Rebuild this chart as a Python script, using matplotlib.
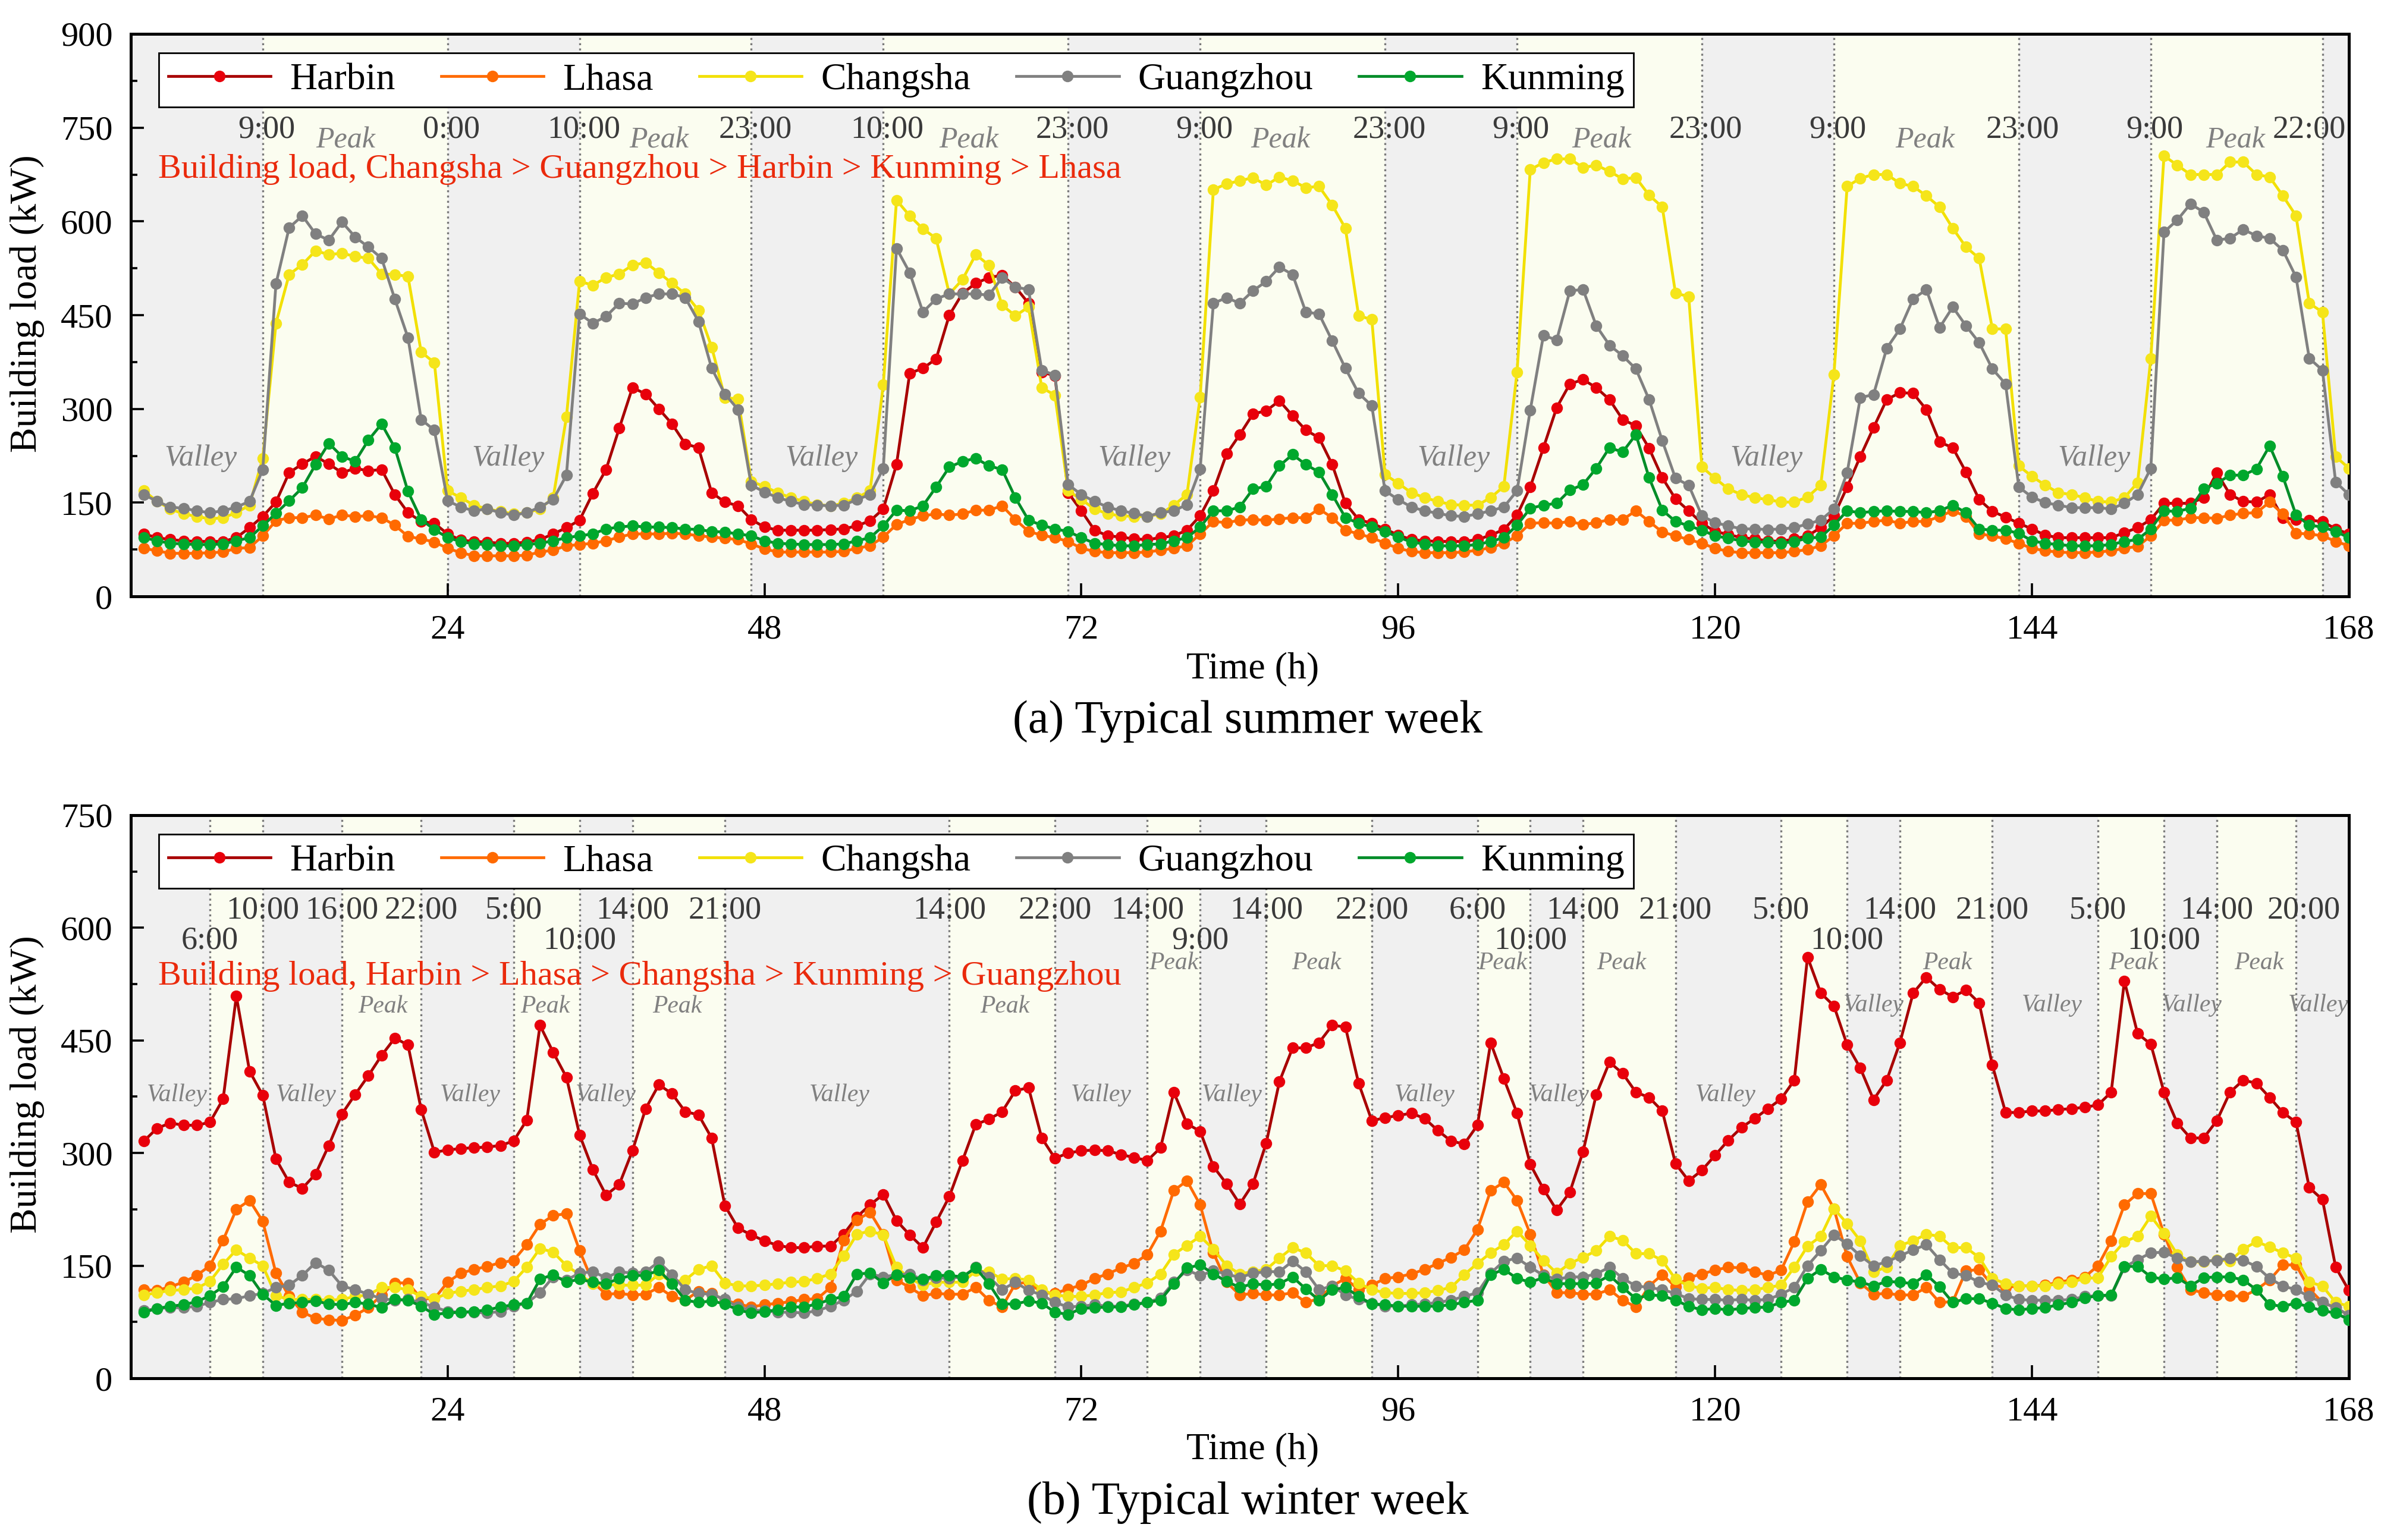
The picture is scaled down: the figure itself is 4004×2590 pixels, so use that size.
import matplotlib.pyplot as plt
from matplotlib.ticker import MultipleLocator

plt.rcParams['font.family'] = ['Liberation Serif', 'DejaVu Serif']

hours = list(range(1, 169))
cities = ['Harbin', 'Lhasa', 'Changsha', 'Guangzhou', 'Kunming']

# ---- typical summer week, hourly building load (kW) ----
summer_harbin = [
    100, 94, 91, 89, 88, 88, 88, 94, 110, 128, 151, 198, 212, 224, 212, 198, 205, 201, 203, 163, 134, 120, 117, 100,
    90, 88, 87, 85, 85, 87, 91, 100, 110, 122, 165, 203, 269, 334, 324, 300, 276, 244, 238, 166, 151, 145, 123, 111,
    106, 106, 106, 106, 107, 108, 113, 121, 140, 211, 357, 365, 380, 450, 485, 501, 510, 514, 495, 469, 359, 353, 166, 137,
    106, 97, 95, 92, 91, 94, 97, 106, 129, 169, 228, 259, 292, 297, 313, 289, 266, 254, 211, 149, 123, 117, 108, 98,
    91, 89, 88, 88, 88, 91, 98, 107, 130, 175, 238, 302, 340, 347, 334, 315, 283, 273, 237, 190, 156, 137, 117, 104,
    99, 94, 92, 89, 88, 92, 97, 110, 129, 175, 224, 270, 315, 326, 325, 299, 247, 238, 199, 155, 136, 127, 117, 108,
    98, 94, 94, 94, 94, 94, 102, 110, 123, 149, 149, 149, 158, 198, 163, 152, 151, 163, 126, 123, 122, 120, 108, 100]
summer_lhasa = [
    77, 73, 69, 69, 69, 70, 71, 77, 78, 97, 121, 126, 126, 130, 124, 130, 128, 129, 126, 114, 96, 92, 87, 77,
    70, 65, 65, 65, 65, 66, 71, 74, 81, 83, 85, 89, 95, 100, 100, 100, 101, 100, 97, 95, 93, 91, 84, 76,
    71, 71, 71, 71, 71, 72, 77, 81, 95, 115, 123, 129, 132, 130, 132, 138, 138, 145, 123, 104, 98, 94, 88, 77,
    72, 70, 70, 70, 71, 74, 77, 81, 100, 120, 118, 122, 123, 122, 124, 126, 126, 140, 126, 106, 100, 94, 85, 77,
    72, 70, 70, 70, 71, 74, 78, 85, 97, 117, 118, 117, 120, 115, 118, 123, 123, 137, 120, 103, 97, 91, 85, 77,
    72, 70, 70, 70, 70, 72, 75, 81, 97, 117, 117, 120, 122, 117, 120, 120, 128, 137, 128, 100, 97, 92, 85, 77,
    73, 71, 70, 70, 71, 73, 77, 80, 97, 122, 122, 126, 126, 125, 130, 133, 134, 151, 132, 101, 100, 97, 88, 81]
summer_changsha = [
    169, 152, 140, 132, 128, 124, 126, 134, 146, 221, 437, 515, 531, 553, 547, 549, 544, 541, 516, 515, 512, 391, 374, 169,
    158, 146, 140, 136, 132, 134, 140, 158, 287, 504, 498, 510, 516, 530, 534, 518, 501, 484, 458, 399, 318, 316, 184, 176,
    166, 158, 152, 147, 145, 149, 158, 169, 339, 634, 609, 588, 573, 484, 507, 547, 530, 466, 449, 463, 334, 322, 169, 155,
    140, 132, 129, 128, 128, 132, 146, 163, 319, 651, 660, 665, 670, 658, 671, 665, 654, 656, 626, 589, 449, 443, 195, 181,
    166, 158, 152, 147, 146, 146, 158, 176, 359, 683, 694, 700, 700, 686, 690, 680, 668, 670, 642, 623, 485, 480, 207, 189,
    172, 163, 158, 155, 151, 151, 159, 178, 355, 656, 669, 675, 675, 661, 656, 641, 623, 589, 559, 541, 428, 428, 209, 192,
    178, 166, 163, 158, 152, 151, 158, 182, 381, 705, 690, 675, 675, 675, 695, 695, 675, 671, 641, 609, 469, 455, 224, 205]
summer_guangzhou = [
    163, 152, 143, 141, 137, 134, 137, 143, 152, 203, 500, 590, 609, 580, 570, 599, 575, 559, 541, 476, 414, 283, 266, 153,
    143, 137, 140, 134, 130, 134, 143, 155, 194, 452, 437, 448, 469, 468, 478, 484, 484, 478, 440, 365, 324, 299, 178, 167,
    158, 152, 147, 146, 145, 146, 155, 163, 205, 557, 518, 455, 476, 484, 484, 484, 482, 510, 495, 491, 362, 354, 179, 163,
    152, 143, 137, 133, 128, 134, 137, 147, 204, 469, 478, 469, 489, 504, 527, 515, 455, 452, 409, 365, 325, 305, 169, 155,
    143, 137, 133, 129, 128, 132, 137, 143, 169, 298, 418, 410, 489, 491, 433, 402, 385, 364, 315, 249, 189, 178, 129, 118,
    113, 108, 108, 107, 108, 110, 116, 122, 140, 198, 318, 323, 397, 428, 476, 491, 430, 463, 433, 406, 364, 340, 175, 159,
    150, 146, 142, 142, 142, 140, 149, 163, 205, 583, 602, 628, 615, 570, 573, 587, 577, 573, 554, 511, 381, 362, 183, 163]
summer_kunming = [
    94, 89, 85, 84, 83, 83, 84, 89, 94, 113, 133, 153, 174, 211, 245, 224, 216, 250, 276, 238, 168, 123, 107, 94,
    88, 84, 83, 81, 81, 83, 85, 89, 94, 97, 100, 108, 111, 113, 111, 111, 110, 108, 107, 104, 103, 100, 97, 89,
    85, 84, 83, 83, 83, 84, 89, 94, 113, 138, 137, 145, 175, 207, 216, 221, 209, 203, 158, 122, 114, 108, 104, 94,
    85, 83, 81, 81, 83, 84, 89, 94, 111, 137, 137, 143, 172, 176, 209, 227, 211, 199, 163, 126, 117, 111, 104, 95,
    87, 84, 81, 81, 81, 83, 88, 94, 114, 141, 146, 149, 170, 179, 205, 238, 231, 259, 190, 138, 120, 113, 106, 97,
    93, 89, 87, 87, 85, 88, 93, 95, 114, 137, 134, 136, 137, 136, 136, 134, 137, 146, 134, 108, 106, 106, 101, 89,
    85, 83, 81, 81, 81, 83, 88, 91, 108, 137, 136, 141, 172, 181, 194, 194, 204, 241, 192, 130, 114, 111, 104, 94]

# ---- typical winter week, hourly building load (kW) ----
winter_harbin = [
    316, 333, 340, 337, 337, 341, 372, 509, 409, 377, 292, 261, 253, 272, 310, 352, 378, 403, 430, 453, 444, 358, 301, 304,
    306, 307, 308, 310, 316, 344, 470, 434, 401, 324, 278, 244, 258, 303, 359, 391, 379, 355, 351, 320, 230, 200, 191, 183,
    177, 174, 174, 176, 176, 192, 215, 231, 245, 210, 191, 174, 208, 242, 290, 338, 345, 355, 383, 387, 320, 293, 300, 303,
    304, 303, 298, 294, 290, 307, 381, 339, 329, 282, 259, 232, 259, 313, 395, 440, 440, 447, 470, 468, 393, 343, 347, 350,
    353, 346, 330, 316, 312, 337, 447, 399, 353, 285, 252, 224, 248, 302, 378, 421, 406, 381, 374, 356, 286, 263, 277, 297,
    317, 334, 346, 359, 372, 397, 561, 513, 496, 444, 413, 371, 397, 447, 513, 534, 518, 508, 517, 500, 417, 354, 354, 356,
    356, 358, 359, 361, 364, 381, 529, 459, 445, 381, 340, 320, 320, 343, 381, 397, 393, 374, 354, 341, 254, 238, 148, 117]
winter_lhasa = [
    118, 117, 122, 128, 137, 150, 184, 225, 237, 209, 140, 109, 88, 80, 78, 77, 84, 94, 111, 127, 127, 106, 106, 128,
    140, 145, 149, 154, 157, 178, 205, 217, 219, 170, 128, 112, 113, 111, 112, 121, 109, 104, 116, 113, 104, 99, 95, 98,
    100, 102, 105, 106, 121, 184, 211, 221, 192, 131, 121, 110, 113, 112, 112, 121, 104, 95, 126, 128, 114, 113, 119, 124,
    133, 139, 147, 153, 165, 196, 250, 263, 231, 167, 128, 111, 113, 111, 111, 114, 101, 106, 123, 133, 118, 124, 133, 135,
    139, 145, 153, 161, 171, 198, 250, 261, 237, 192, 138, 114, 114, 112, 112, 118, 104, 95, 123, 138, 122, 134, 139, 144,
    148, 147, 142, 137, 144, 182, 235, 258, 226, 162, 127, 112, 113, 111, 111, 121, 101, 102, 143, 145, 124, 121, 123, 123,
    124, 128, 131, 135, 150, 183, 231, 246, 246, 192, 148, 118, 114, 111, 110, 109, 118, 131, 151, 151, 119, 101, 94, 84]
winter_changsha = [
    111, 114, 117, 118, 120, 129, 152, 171, 160, 150, 110, 105, 105, 105, 104, 105, 109, 111, 121, 121, 118, 109, 106, 113,
    116, 118, 121, 123, 129, 148, 173, 168, 150, 138, 126, 125, 124, 124, 124, 139, 128, 131, 145, 150, 127, 123, 123, 124,
    126, 128, 129, 133, 139, 163, 192, 196, 191, 148, 133, 124, 128, 128, 128, 143, 142, 132, 133, 131, 118, 111, 109, 109,
    111, 114, 115, 121, 127, 139, 165, 177, 189, 172, 150, 139, 142, 145, 160, 174, 167, 150, 150, 143, 127, 118, 114, 113,
    113, 114, 117, 121, 138, 153, 167, 178, 196, 177, 157, 140, 153, 161, 170, 189, 184, 166, 166, 157, 132, 123, 120, 121,
    118, 117, 118, 121, 124, 148, 176, 189, 226, 206, 183, 142, 148, 177, 183, 192, 189, 174, 174, 161, 133, 126, 123, 123,
    123, 126, 128, 133, 134, 162, 182, 189, 216, 193, 165, 155, 155, 158, 156, 172, 182, 175, 167, 160, 128, 123, 101, 96]
winter_guangzhou = [
    90, 93, 94, 94, 96, 101, 105, 106, 110, 113, 121, 124, 137, 154, 144, 123, 118, 112, 106, 104, 105, 101, 95, 89,
    88, 88, 87, 89, 96, 100, 114, 135, 131, 140, 142, 134, 142, 140, 142, 155, 138, 118, 113, 112, 105, 95, 91, 90,
    88, 88, 87, 90, 96, 104, 116, 139, 135, 138, 139, 131, 134, 133, 135, 148, 135, 118, 128, 117, 111, 101, 95, 96,
    98, 96, 96, 99, 101, 107, 128, 144, 137, 143, 139, 134, 140, 142, 142, 156, 142, 118, 123, 111, 105, 100, 96, 96,
    98, 99, 101, 104, 109, 114, 140, 156, 160, 148, 137, 132, 135, 135, 139, 148, 133, 123, 121, 118, 113, 106, 105, 105,
    104, 105, 104, 105, 112, 121, 150, 170, 191, 179, 163, 150, 155, 163, 171, 178, 158, 140, 137, 128, 124, 111, 105, 104,
    104, 104, 105, 109, 110, 110, 148, 158, 167, 168, 160, 155, 156, 157, 160, 157, 149, 133, 123, 118, 109, 101, 94, 84]
winter_kunming = [
    88, 93, 96, 98, 102, 110, 122, 148, 137, 112, 97, 100, 101, 103, 99, 98, 101, 99, 94, 105, 104, 96, 85, 87,
    88, 89, 91, 95, 98, 100, 132, 138, 128, 132, 128, 126, 133, 137, 137, 144, 126, 104, 101, 103, 99, 91, 87, 89,
    91, 95, 95, 99, 105, 109, 139, 140, 127, 138, 134, 132, 137, 137, 135, 147, 126, 99, 99, 103, 100, 88, 85, 93,
    94, 95, 95, 98, 101, 104, 126, 147, 151, 139, 129, 121, 126, 124, 126, 135, 119, 104, 118, 121, 109, 99, 98, 96,
    96, 96, 96, 98, 101, 104, 138, 145, 133, 128, 134, 126, 126, 126, 127, 137, 121, 106, 111, 110, 104, 96, 91, 93,
    91, 93, 94, 95, 101, 104, 133, 145, 135, 131, 128, 123, 129, 128, 126, 138, 122, 101, 106, 106, 100, 93, 91, 93,
    94, 98, 101, 107, 110, 111, 149, 149, 135, 132, 134, 123, 134, 135, 135, 131, 118, 98, 96, 100, 95, 90, 87, 78]

summer_series = [summer_harbin, summer_lhasa, summer_changsha, summer_guangzhou, summer_kunming]
winter_series = [winter_harbin, winter_lhasa, winter_changsha, winter_guangzhou, winter_kunming]

# peak / valley period boundaries (h)
summer_bounds = [0, 10, 24, 34, 47, 57, 71, 81, 95, 105, 119, 129, 143, 153, 166, 168]
winter_bounds = [0, 6, 10, 16, 22, 29, 34, 38, 45, 62, 70, 77, 81, 86, 94, 102, 106, 110, 117,
                 125, 130, 134, 141, 149, 154, 158, 164, 168]

summer_times = ['9:00', '0:00', '10:00', '23:00', '10:00', '23:00', '9:00', '23:00', '9:00',
                '23:00', '9:00', '23:00', '9:00', '22:00']
winter_times = ['6:00', '10:00', '16:00', '22:00', '5:00', '10:00', '14:00', '21:00', '14:00',
                '22:00', '14:00', '9:00', '14:00', '22:00', '6:00', '10:00', '14:00', '21:00',
                '5:00', '10:00', '14:00', '21:00', '5:00', '10:00', '14:00', '20:00']
winter_low_row = [6, 34, 81, 106, 130, 154]   # boundaries whose time label sits on the lower row

summer_peaks = [16.3, 40, 63.5, 87.1, 111.4, 135.9, 159.4]
summer_valleys = [5.3, 28.6, 52.3, 76, 100.2, 123.9, 148.7]
winter_peaks_low = [19.1, 31.4, 41.4, 66.2]
winter_peaks_high = [79, 89.8, 103.9, 112.9, 137.6, 151.7, 161.2]
winter_valleys_low = [3.5, 13.3, 25.7, 36, 53.7, 73.5, 83.4, 98, 108.2, 120.8]
winter_valleys_high = [132, 145.5, 156.1, 165.7]

line_colors = ['#a80000', '#ff6a00', '#f2e000', '#808080', '#008c28']
marker_colors = ['#e8000b', '#ff6a00', '#f5e51a', '#808080', '#00a82d']

GRAY = '#f0f0f0'
YELLOW = '#fbfdf0'
TIME_C = '#3a3a3a'
PV_C = '#808080'
RED_TXT = '#ea2a0c'


def shade(ax, bounds):
    for i in range(len(bounds) - 1):
        ax.axvspan(bounds[i], bounds[i + 1], color=GRAY if i % 2 == 0 else YELLOW, lw=0, zorder=0)
    for b in bounds[1:-1]:
        ax.axvline(b, color='#7a7a7a', ls=':', lw=1.2, zorder=1)


def style_axes(ax, ymax):
    ax.set_xlim(0, 168)
    ax.set_ylim(0, ymax)
    ax.set_xticks(range(24, 169, 24))
    ax.yaxis.set_major_locator(MultipleLocator(150))
    ax.yaxis.set_minor_locator(MultipleLocator(75))
    ax.tick_params(axis='both', which='major', direction='in', length=8, width=1.3,
                   labelsize=21, pad=11)
    ax.tick_params(axis='y', which='minor', direction='in', length=4, width=1.3)
    for s in ax.spines.values():
        s.set_linewidth(1.8)


def draw_series(ax, series):
    for name, vals, lc, mc in zip(cities, series, line_colors, marker_colors):
        ax.plot(hours, vals, '-', color=lc, lw=1.7, marker='o', ms=6,
                mfc=mc, mec=mc, label=name, zorder=3)
    leg = ax.legend(loc='lower left', bbox_to_anchor=(0.0126, 0.870, 0.665, 0.101),
                    mode='expand', ncol=5, fontsize=23, frameon=True, fancybox=False,
                    edgecolor='black', framealpha=1, borderaxespad=0, handlelength=2.7,
                    numpoints=1, borderpad=0.25, handletextpad=0.5)
    leg.get_frame().set_linewidth(1.0)
    leg.set_zorder(10)


fig = plt.figure(figsize=(20.02, 12.95), dpi=200)
ax1 = fig.add_axes([0.0549, 0.6127, 0.9316, 0.3653])
ax2 = fig.add_axes([0.0549, 0.1050, 0.9316, 0.3657])

# ---- (a) summer ----
shade(ax1, summer_bounds)
draw_series(ax1, summer_series)
style_axes(ax1, 900)
for b, t in zip(summer_bounds[1:-1], summer_times):
    xpos = b + 0.3 if b < 160 else 165
    ax1.text(xpos, 747, t, ha='center', va='center', fontsize=19.5, color=TIME_C, zorder=5)
for p in summer_peaks:
    ax1.text(p, 729, 'Peak', ha='center', va='center', fontsize=18, style='italic', color=PV_C, zorder=5)
for v in summer_valleys:
    ax1.text(v, 221, 'Valley', ha='center', va='center', fontsize=18, style='italic', color=PV_C, zorder=2)
ax1.text(2.1, 683, 'Building load, Changsha > Guangzhou > Harbin > Kunming > Lhasa',
         ha='left', va='center', fontsize=21, color=RED_TXT, zorder=5)

# ---- (b) winter ----
shade(ax2, winter_bounds)
draw_series(ax2, winter_series)
style_axes(ax2, 750)
for b, t in zip(winter_bounds[1:-1], winter_times):
    ypos = 583 if b in winter_low_row else 623
    xpos = b if b < 160 else 164.6
    ax2.text(xpos, ypos, t, ha='center', va='center', fontsize=19.5, color=TIME_C, zorder=5)
for p in winter_peaks_low:
    ax2.text(p, 495, 'Peak', ha='center', va='center', fontsize=15, style='italic', color=PV_C, zorder=5)
for p in winter_peaks_high:
    ax2.text(p, 553, 'Peak', ha='center', va='center', fontsize=15, style='italic', color=PV_C, zorder=5)
for v in winter_valleys_low:
    ax2.text(v, 377, 'Valley', ha='center', va='center', fontsize=15, style='italic', color=PV_C, zorder=2)
for v in winter_valleys_high:
    ax2.text(v, 497, 'Valley', ha='center', va='center', fontsize=15, style='italic', color=PV_C, zorder=2)
ax2.text(2.1, 535, 'Building load, Harbin > Lhasa > Changsha > Kunming > Guangzhou',
         ha='left', va='center', fontsize=21, color=RED_TXT, zorder=5)

# axis titles and captions
for yc in (0.803, 0.296):
    fig.text(0.0115, yc, 'Building load (kW)', rotation=90, ha='center', va='center', fontsize=23)
fig.text(0.526, 0.5653, 'Time (h)', ha='center', va='center', fontsize=23)
fig.text(0.524, 0.5317, '(a) Typical summer week', ha='center', va='center', fontsize=28)
fig.text(0.526, 0.0587, 'Time (h)', ha='center', va='center', fontsize=23)
fig.text(0.524, 0.0243, '(b) Typical winter week', ha='center', va='center', fontsize=28)

fig.savefig('out.png', dpi=200)
